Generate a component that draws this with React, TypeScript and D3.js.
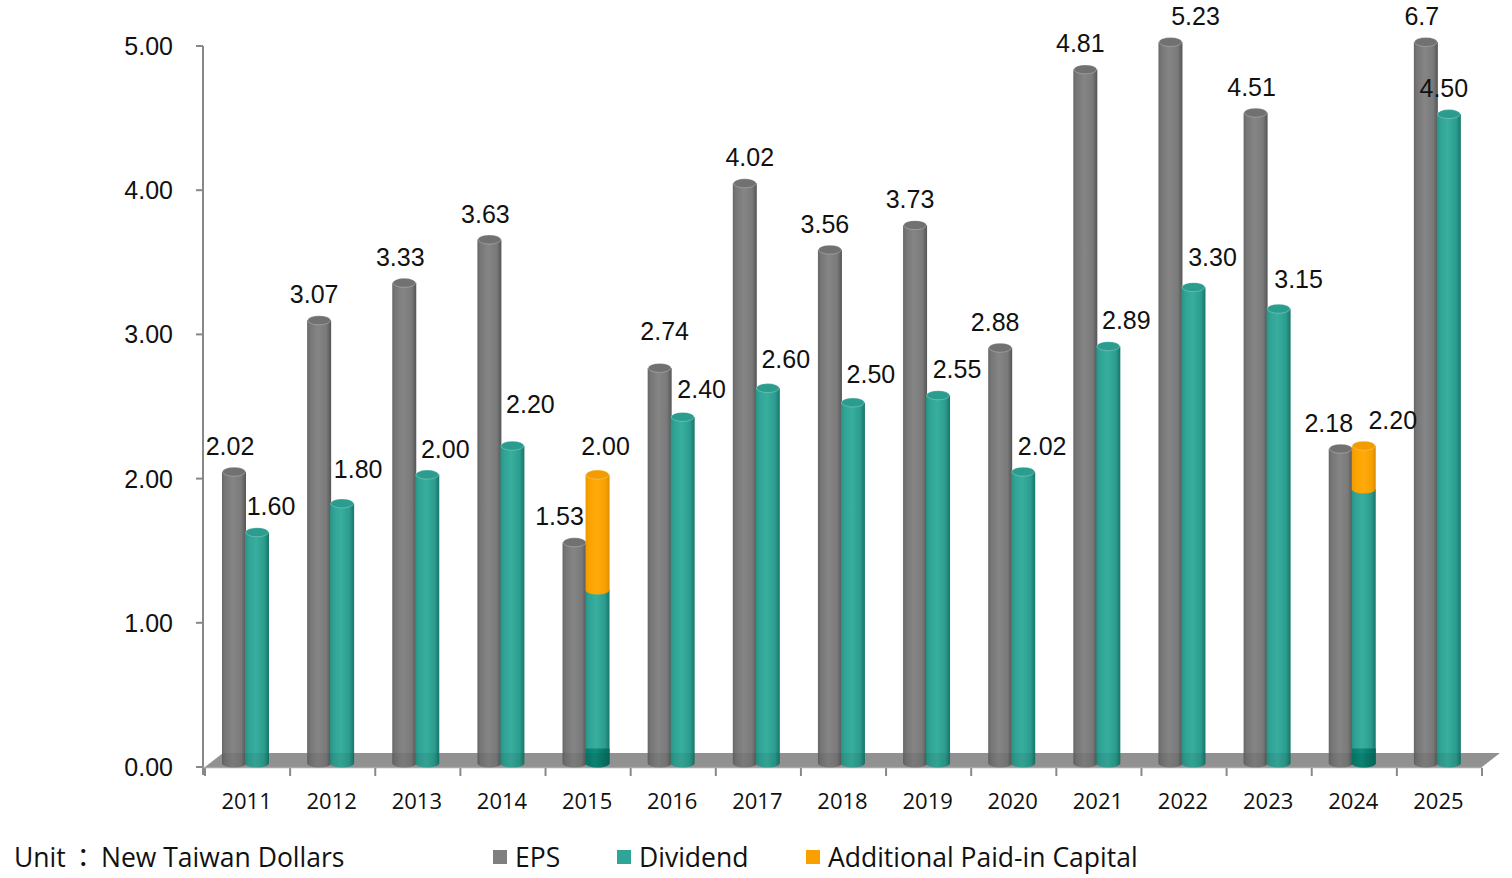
import { useEffect, useRef } from 'react';
import * as d3 from 'd3';

// values
const years = ['2011', '2012', '2013', '2014', '2015', '2016', '2017', '2018', '2019', '2020', '2021', '2022', '2023', '2024', '2025'];
const eps = [2.02, 3.07, 3.33, 3.63, 1.53, 2.74, 4.02, 3.56, 3.73, 2.88, 4.81, 5.23, 4.51, 2.18, 6.7];
const epsLabels = ['2.02', '3.07', '3.33', '3.63', '1.53', '2.74', '4.02', '3.56', '3.73', '2.88', '4.81', '5.23', '4.51', '2.18', '6.7'];
const dividend = [1.6, 1.8, 2.0, 2.2, 1.2, 2.4, 2.6, 2.5, 2.55, 2.02, 2.89, 3.3, 3.15, 1.9, 4.5];
const dividendBase = [0, 0, 0, 0, 0.1, 0, 0, 0, 0, 0, 0, 0, 0, 0.1, 0];
const capital = [0, 0, 0, 0, 0.8, 0, 0, 0, 0, 0, 0, 0, 0, 0.3, 0];
const yTicks = [0, 1, 2, 3, 4, 5];

// label nudges (Excel moved a few labels to avoid overlaps)
const epsLabelDx = [-4, -5, -4, -4, -15, 5, 5, -5, -5, -5, -5, 25, -4, -12, -4];
const epsLabelDy = [0, 0, 0, 0, 0, -11, 0, 0, 0, 0, 0, 0, 0, 0, 0];
const divLabelDx = [14, 16, 18, 18, 8, 19, 18, 18, 19, 19, 18, 19, 20, 29, -5];
const divLabelDy = [0, -8, 0, -16, -3, -2, -3, -3, 0, 0, 0, -4, -4, 0, 0];

const W = 1512;
const H = 878;

export default function App() {
	const svgRef = useRef<SVGSVGElement | null>(null);

	useEffect(() => {
		if (!svgRef.current) return;
		const svg = d3.select(svgRef.current);
		svg.selectAll('*').remove();

		const numFont = '"Liberation Sans", Arial, sans-serif';
		const uiFont = '"Open Sans", "Noto Sans", "Noto Sans CJK TC", sans-serif';

		const x = d3.scaleBand<string>().domain(years).range([205, 1482]).padding(0);
		const yAxis = d3.scaleLinear().domain([0, 5]).range([767, 46]);
		// bars stand a little behind the front plane
		const yBar = (v: number) => yAxis(Math.min(v, 5)) - 4;

		const defs = svg.append('defs');
		const grad = (id: string, stops: [number, string][]) => {
			const g = defs.append('linearGradient').attr('id', id).attr('x1', '0%').attr('x2', '100%');
			stops.forEach(([o, c]) => g.append('stop').attr('offset', `${o}%`).attr('stop-color', c));
		};
		grad('gGray', [[0, '#666'], [12, '#767676'], [45, '#858585'], [80, '#7a7a7a'], [100, '#555']]);
		grad('gTeal', [[0, '#279486'], [15, '#30a395'], [45, '#38ae9f'], [80, '#2c9d8f'], [100, '#17766a']]);
		grad('gOrange', [[0, '#f09a00'], [20, '#fca400'], [50, '#ffaa0a'], [85, '#f5a000'], [100, '#d98a00']]);
		grad('gDark', [[0, '#067a6b'], [40, '#0d8c7b'], [100, '#056a5d']]);

		// Floor
		const fdx = 18;
		const fdy = -14;
		const fy = yAxis(0);
		const floorPts = [[205, fy], [1482, fy], [1482 + fdx, fy + fdy], [205 + fdx, fy + fdy]].map((p) => p.join(',')).join(' ');
		svg.append('polygon').attr('points', floorPts).attr('fill', '#9c9c9c');

		// Y axis
		svg.append('line').attr('x1', 203).attr('x2', 203).attr('y1', yAxis(5)).attr('y2', 775).attr('stroke', '#888').attr('stroke-width', 2);
		svg
			.append('g')
			.selectAll('line')
			.data(yTicks)
			.join('line')
			.attr('x1', 196)
			.attr('x2', 203)
			.attr('y1', (d) => yAxis(d))
			.attr('y2', (d) => yAxis(d))
			.attr('stroke', '#888')
			.attr('stroke-width', 2);
		svg
			.append('g')
			.selectAll('text')
			.data(yTicks)
			.join('text')
			.attr('x', 173)
			.attr('y', (d) => yAxis(d) + 9)
			.attr('text-anchor', 'end')
			.style('font-family', numFont)
			.style('font-size', '25px')
			.attr('fill', '#111')
			.text((d) => d3.format('.2f')(d));

		// X axis ticks + labels
		const bounds = years.map((y) => x(y)!).concat([1482]);
		svg
			.append('g')
			.selectAll('line')
			.data(bounds)
			.join('line')
			.attr('x1', (d) => d)
			.attr('x2', (d) => d)
			.attr('y1', 768)
			.attr('y2', 776)
			.attr('stroke', '#888')
			.attr('stroke-width', 2);
		svg.append('line').attr('x1', 203).attr('x2', 1482).attr('y1', 767.5).attr('y2', 767.5).attr('stroke', '#a8a8a8').attr('stroke-width', 1.5);
		svg
			.append('g')
			.selectAll('text')
			.data(years)
			.join('text')
			.attr('x', (d) => x(d)! + x.bandwidth() / 2 - 1)
			.attr('y', 809)
			.attr('text-anchor', 'middle')
			.style('font-family', uiFont)
			.style('font-size', '22px')
			.attr('fill', '#111')
			.text((d) => d);

		// Cylinder segment from v0 to v1
		const rx = 12;
		const ry = 4.5;
		const bars = svg.append('g');
		const cylinder = (cx: number, v0: number, v1: number, fill: string, top: string | null) => {
			const y0 = yBar(v0);
			const y1 = yBar(v1);
			bars
				.append('path')
				.attr('d', `M${cx - rx},${y1} L${cx - rx},${y0} A${rx},${ry} 0 0 0 ${cx + rx},${y0} L${cx + rx},${y1} Z`)
				.attr('fill', fill);
			if (top) {
				bars
					.append('ellipse')
					.attr('cx', cx)
					.attr('cy', y1)
					.attr('rx', rx - 0.5)
					.attr('ry', ry)
					.attr('fill', top)
					.attr('stroke', 'rgba(255,255,255,0.25)')
					.attr('stroke-width', 1);
			}
		};

		years.forEach((yr, i) => {
			const x0 = x(yr)!;
			const gx = x0 + 29;
			const tx = x0 + 52;
			cylinder(gx, 0, eps[i], 'url(#gGray)', '#717171');
			const divTop = dividend[i];
			cylinder(tx, 0, divTop, 'url(#gTeal)', capital[i] > 0 ? null : '#2a9d8f');
			if (dividendBase[i] > 0) cylinder(tx, 0, dividendBase[i], 'url(#gDark)', null);
			if (capital[i] > 0) cylinder(tx, divTop, divTop + capital[i], 'url(#gOrange)', '#f29c00');
		});

		// slight shade of bar bottoms inside the floor
		svg.append('polygon').attr('points', floorPts).attr('fill', 'rgba(0,0,0,0.07)');

		// Data labels
		const labels = svg.append('g').style('font-family', numFont).style('font-size', '25px').attr('fill', '#111').attr('text-anchor', 'middle');
		years.forEach((yr, i) => {
			const x0 = x(yr)!;
			labels
				.append('text')
				.attr('x', x0 + 29 + epsLabelDx[i])
				.attr('y', yBar(eps[i]) - 17 + epsLabelDy[i])
				.text(epsLabels[i]);
			const total = dividend[i] + capital[i];
			labels
				.append('text')
				.attr('x', x0 + 52 + divLabelDx[i])
				.attr('y', yBar(total) - 17 + divLabelDy[i])
				.text(d3.format('.2f')(total));
		});

		// Unit + legend
		const unit = svg
			.append('text')
			.attr('y', 867)
			.style('font-family', uiFont)
			.style('font-size', '26.5px')
			.attr('fill', '#111');
		unit.append('tspan').attr('x', 14).text('Unit');
		unit.append('tspan').attr('x', 70).text('：');
		unit.append('tspan').attr('x', 101).text('New Taiwan Dollars');

		const legend = [
			{ name: 'EPS', color: '#7f7f7f', x: 493 },
			{ name: 'Dividend', color: '#2ea596', x: 617 },
			{ name: 'Additional Paid-in Capital', color: '#f9a000', x: 806 },
		];
		const lg = svg.append('g').selectAll('g').data(legend).join('g');
		lg.append('rect')
			.attr('x', (d) => d.x)
			.attr('y', 850)
			.attr('width', 14)
			.attr('height', 14)
			.attr('fill', (d) => d.color);
		lg.append('text')
			.attr('x', (d) => d.x + 22)
			.attr('y', 867)
			.style('font-family', uiFont)
			.style('font-size', '26.5px')
			.attr('fill', '#111')
			.text((d) => d.name);
	}, []);

	return (
		<svg
			ref={svgRef}
			width={W}
			height={H}
			style={{ position: 'absolute', left: 0, top: 0, background: '#fff' }}
		/>
	);
}
